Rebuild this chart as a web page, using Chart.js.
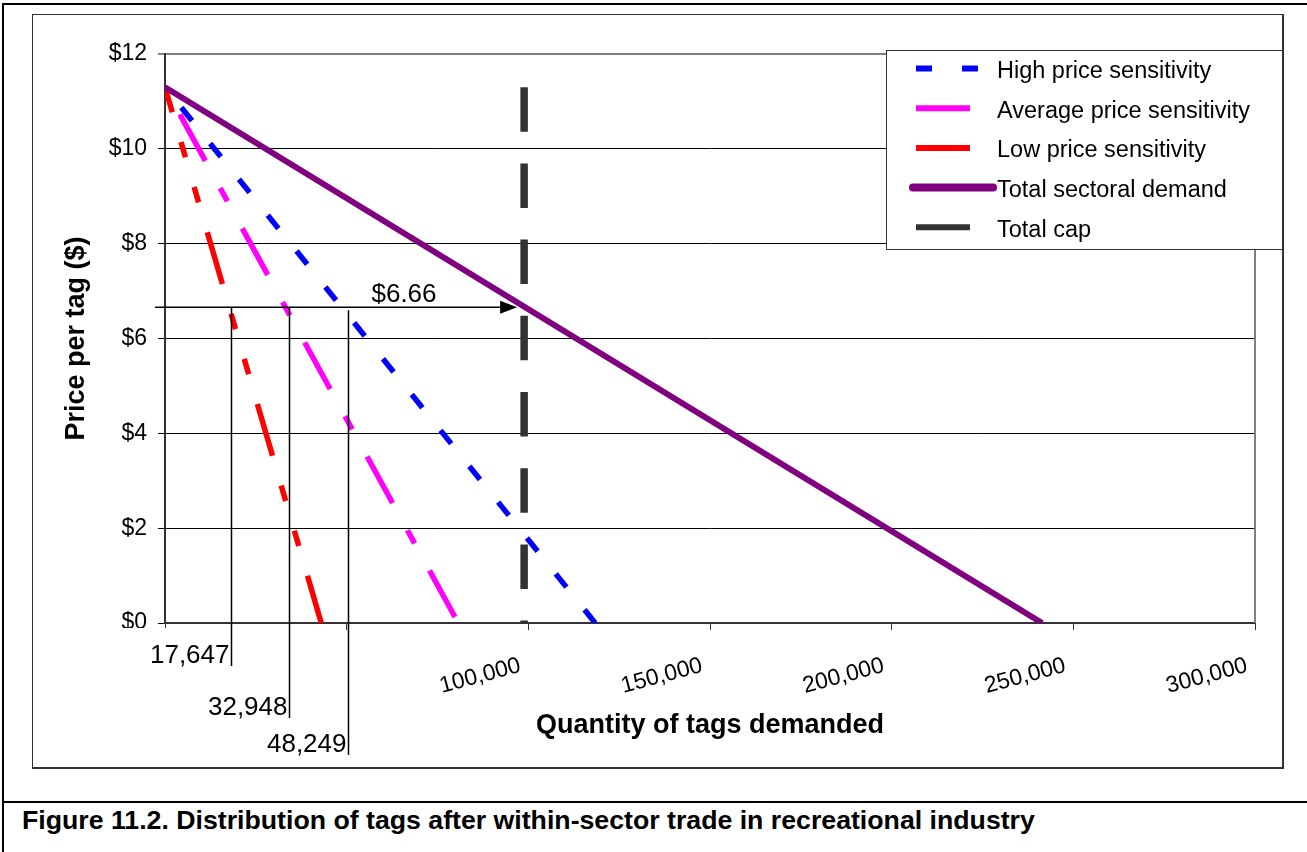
<!DOCTYPE html>
<html>
<head>
<meta charset="utf-8">
<script src="https://cdn.jsdelivr.net/npm/chart.js@4.4.1/dist/chart.umd.min.js"></script>
<style>
  html, body { margin: 0; padding: 0; background: #fff; }
  body { width: 1307px; height: 852px; position: relative; overflow: hidden; font-family: "Liberation Sans", Arial, sans-serif; }
  #outer { position: absolute; left: 2px; top: 3px; width: 1400px; height: 900px; border-left: 2px solid #000; border-top: 2px solid #000; }
  #sep { position: absolute; left: 2px; top: 801px; width: 1400px; border-top: 2px solid #000; }
  #frame { position: absolute; left: 32px; top: 14px; width: 1249px; height: 752px; border: 1px solid #333; border-right-width: 2px; border-bottom-width: 2px; }
  #caption { position: absolute; left: 22px; top: 807px; font-weight: bold; font-size: 26.7px; line-height: 26px; white-space: nowrap; color: #000; }
  #chart { position: absolute; left: 0; top: 0; }
</style>
</head>
<body>
<div id="outer"></div>
<div id="frame"></div>
<div id="sep"></div>
<div id="caption">Figure 11.2. Distribution of tags after within-sector trade in recreational industry</div>
<canvas id="chart" width="1307" height="852"></canvas>
<script>
// demand curves: quantity of tags (x) vs price per tag (y)
const seriesNames = ["High price sensitivity", "Average price sensitivity", "Low price sensitivity", "Total sectoral demand", "Total cap"];
const highQty   = [118400, 0];  const highPrice  = [0, 11.3];
const avgQty    = [0, 80700];   const avgPrice   = [11.3, 0];
const lowQty    = [0, 43000];   const lowPrice   = [11.3, 0];
const totalQty  = [0, 241400];  const totalPrice = [11.3, 0];
const capQty    = [98844, 98844]; const capPrice = [11.3, 0];

// clearing price and the per-group allocations marked on the chart
const clearingPrice = 6.66;
const markerQty    = [18200, 34000, 50400];
const markerLabels = ["17,647", "32,948", "48,249"];

const xTickLabels = ["", "", "100,000", "150,000", "200,000", "250,000", "300,000"];
const yTickLabels = ["$0", "$2", "$4", "$6", "$8", "$10", "$12"];

const FONT = "'Liberation Sans', Arial, sans-serif";
Chart.defaults.font.family = FONT;
Chart.defaults.color = "#000";

const toPts = (xs, ys) => xs.map((x, i) => ({ x, y: ys[i] }));

const styles = [
  { color: "#0000FF", width: 5.5, dash: [17, 29], offset: 0, legendDash: [16, 30], legendLen: 62 },
  { color: "#FF00FF", width: 5.5, dash: [53, 31, 15, 31], offset: 99, legendDash: [], legendLen: 54 },
  { color: "#FF0000", width: 5.5, dash: [54, 31, 16, 31, 16, 31], offset: 28, legendDash: [], legendLen: 54 },
  { color: "#800080", width: 6, dash: [], offset: 0, legendDash: [], legendLen: 80, legendWidth: 8, round: true },
  { color: "#333333", width: 7.5, dash: [44.5, 31.7], offset: 0, legendDash: [], legendLen: 54 },
];
const dataSets = [toPts(highQty, highPrice), toPts(avgQty, avgPrice), toPts(lowQty, lowPrice),
                  toPts(totalQty, totalPrice), toPts(capQty, capPrice)];

// lines and labels for the $6.66 reading
const annotate = {
  id: "annotate",
  afterDatasetsDraw(chart) {
    const { ctx, scales: { x, y } } = chart;
    const py = y.getPixelForValue(clearingPrice);
    const capPx = x.getPixelForValue(capQty[0]);
    const drops = [40, 92, 129];
    ctx.save();
    ctx.font = "26px " + FONT;
    ctx.textAlign = "right";
    ctx.textBaseline = "alphabetic";
    markerQty.forEach((q, i) => {
      const px = Math.round(x.getPixelForValue(q)) + 0.5;
      const base = y.bottom + drops[i];
      // white text box like the original
      const w = ctx.measureText(markerLabels[i]).width;
      const left = i === 0 ? 60 : px - w - 8;
      const top = i === 0 ? y.bottom + 5 : base - 26;
      ctx.fillStyle = "#fff";
      ctx.fillRect(left, top, px - 1 - left, base + 4 - top);
      ctx.fillStyle = "#000";
      ctx.fillText(markerLabels[i], px - 2, base);
      ctx.strokeStyle = "#000";
      ctx.lineWidth = 1.5;
      ctx.beginPath();
      ctx.moveTo(px, py + (i === 2 ? 3 : 0));
      ctx.lineTo(px, base + 3);
      ctx.stroke();
    });
    // arrow
    const x0 = x.getPixelForValue(0) - 10;
    const tip = capPx - 7;
    ctx.beginPath();
    ctx.moveTo(x0, py);
    ctx.lineTo(tip - 10, py);
    ctx.lineWidth = 1.5;
    ctx.stroke();
    ctx.beginPath();
    ctx.moveTo(tip, py);
    ctx.lineTo(tip - 17, py - 6.5);
    ctx.lineTo(tip - 17, py + 6.5);
    ctx.closePath();
    ctx.fillStyle = "#000";
    ctx.fill();
    ctx.textAlign = "center";
    ctx.fillText("$" + clearingPrice.toFixed(2), 404, py - 5);
    // right plot border
    ctx.strokeStyle = "#808080";
    ctx.lineWidth = 2;
    ctx.beginPath();
    ctx.moveTo(x.right, y.top);
    ctx.lineTo(x.right, y.bottom);
    ctx.stroke();
    ctx.restore();
  },
  afterDraw(chart) {
    const ctx = chart.ctx;
    const bx = 886.5, by = 50.5, bw = 396, bh = 199;
    ctx.save();
    ctx.fillStyle = "#fff";
    ctx.fillRect(bx, by, bw, bh);
    ctx.strokeStyle = "#333";
    ctx.lineWidth = 1;
    ctx.strokeRect(bx, by, bw, bh);
    ctx.font = "23.5px " + FONT;
    ctx.textAlign = "left";
    ctx.textBaseline = "middle";
    seriesNames.forEach((name, i) => {
      const s = styles[i];
      const ly = 68.5 + 39.7 * i;
      ctx.beginPath();
      ctx.strokeStyle = s.color;
      ctx.lineWidth = s.legendWidth || 6;
      ctx.lineCap = s.round ? "round" : "butt";
      ctx.setLineDash(s.legendDash);
      const lx = s.round ? 913 : 916;
      ctx.moveTo(lx, ly);
      ctx.lineTo(lx + s.legendLen, ly);
      ctx.stroke();
      ctx.setLineDash([]);
      ctx.fillStyle = "#000";
      ctx.fillText(name, 997, ly + 3);
    });
    ctx.restore();
  }
};

new Chart(document.getElementById("chart"), {
  type: "line",
  data: {
    datasets: seriesNames.map((name, i) => ({
      label: name,
      data: dataSets[i],
      borderColor: styles[i].color,
      borderWidth: styles[i].width,
      borderDash: styles[i].dash,
      borderDashOffset: styles[i].offset,
      borderCapStyle: "butt",
      pointRadius: 0,
      tension: 0,
      fill: false,
      order: 5 - i,
    })),
  },
  options: {
    responsive: false,
    animation: false,
    devicePixelRatio: 1,
    layout: { padding: { left: 0, right: 52, top: 54, bottom: 0 } },
    plugins: { legend: { display: false }, tooltip: { enabled: false } },
    scales: {
      x: {
        type: "linear",
        min: 0, max: 300000,
        afterFit: (s) => { s.height = 229; },
        border: { color: "#333", width: 2 },
        grid: { drawOnChartArea: false, drawTicks: true, tickLength: 7, color: "#333" },
        ticks: {
          stepSize: 50000, autoSkip: false,
          minRotation: 15, maxRotation: 15,
          padding: 22, labelOffset: -8,
          font: { size: 23 }, color: "#000",
          callback: (v, i) => xTickLabels[i],
        },
        title: {
          display: true, text: "Quantity of tags demanded",
          font: { size: 27, weight: "bold" }, color: "#000",
          padding: { top: 0, bottom: 110 },
        },
      },
      y: {
        min: 0, max: 12,
        afterFit: (s) => { s.width = 165; },
        border: { color: "#333", width: 2 },
        grid: {
          color: (c) => (c.tick && c.tick.value === 12 ? "#808080" : "#000"),
          lineWidth: (c) => (c.tick && c.tick.value === 12 ? 2 : 1),
          tickLength: 7,
        },
        ticks: {
          stepSize: 2, padding: 11,
          font: { size: 23 }, color: "#000",
          callback: (v, i) => yTickLabels[i],
        },
        title: {
          display: true, text: "Price per tag ($)",
          font: { size: 27, weight: "bold" }, color: "#000",
          padding: { top: 60, bottom: 0 },
        },
      },
    },
  },
  plugins: [annotate],
});
</script>
</body>
</html>
